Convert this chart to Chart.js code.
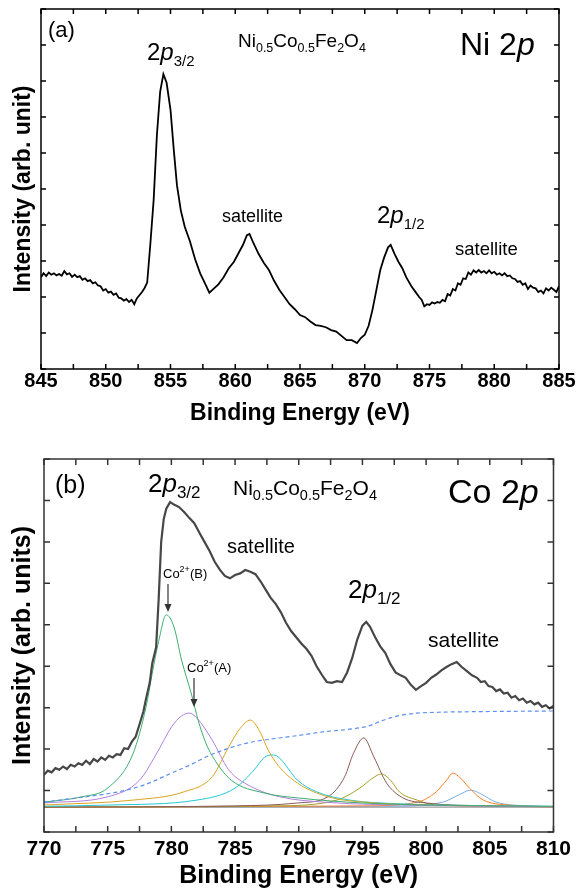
<!DOCTYPE html>
<html><head><meta charset="utf-8">
<script src="https://cdn.jsdelivr.net/npm/chart.js@4.4.1/dist/chart.umd.min.js"></script>
<style>
html,body{margin:0;padding:0;background:#fff;}
#wrap{position:relative;width:576px;height:896px;}
canvas{position:absolute;left:0;}
#c1{top:0;} #c2{top:430px;}
</style></head>
<body><div id="wrap"><canvas id="c1" width="576" height="430"></canvas><canvas id="c2" width="576" height="466"></canvas></div>
<script>
// ---- Panel (a): Ni 2p ----
const niEnergy = [845.0,845.2,845.4,845.6,845.8,846.0,846.2,846.4,846.6,846.8,847.0,847.2,847.4,847.6,847.8,848.0,848.2,848.4,848.6,848.8,849.0,849.2,849.4,849.6,849.8,850.0,850.2,850.4,850.6,850.8,851.0,851.2,851.4,851.6,851.8,852.0,852.2,852.4,852.6,852.8,853.0,853.2,
853.45,853.7,853.95,854.2,854.45,854.7,855.0,855.25,855.5,855.8,856.1,856.5,856.9,857.3,857.7,858.0,858.3,858.7,859.1,859.5,859.9,860.3,860.6,860.9,861.1,861.4,861.8,862.2,862.6,863.0,863.4,863.8,864.2,864.6,865.0,865.4,865.8,866.2,866.6,867.0,867.4,867.8,868.2,868.6,869.0,869.4,869.7,870.0,870.3,870.6,870.9,871.2,871.5,871.8,872.0,872.3,872.6,872.9,873.2,873.6,
874.0,874.2,874.4,874.6,874.8,875.0,875.2,875.4,875.6,875.8,876.0,876.2,876.4,876.6,876.8,877.0,877.2,877.4,877.6,877.8,878.0,878.2,878.4,878.6,878.8,879.0,879.2,879.4,879.6,879.8,880.0,880.2,880.4,880.6,880.8,881.0,881.2,881.4,881.6,881.8,882.0,882.2,882.4,882.6,882.8,883.0,883.2,883.4,883.6,883.8,884.0,884.2,884.4,884.6,884.8,885.0];
const niIntensity = [2.55,2.66,2.58,2.68,2.62,2.66,2.60,2.64,2.59,2.72,2.63,2.66,2.56,2.62,2.55,2.58,2.48,2.52,2.44,2.47,2.38,2.41,2.32,2.30,2.18,2.22,2.12,2.15,2.06,2.10,1.98,1.96,1.90,1.94,1.86,1.92,1.80,1.96,2.05,2.14,2.25,2.40,
3.5,4.7,6.5,7.7,8.19,7.95,7.2,6.1,5.1,4.4,3.95,3.55,3.05,2.65,2.35,2.12,2.22,2.35,2.55,2.80,2.98,3.25,3.45,3.72,3.75,3.50,3.20,2.95,2.75,2.45,2.20,2.00,1.80,1.66,1.50,1.44,1.32,1.22,1.20,1.16,1.08,1.04,0.92,0.80,0.80,0.72,0.86,0.95,1.20,1.65,2.20,2.75,3.10,3.38,3.45,3.20,2.98,2.80,2.55,2.30,
2.10,2.00,1.92,1.74,1.80,1.78,1.85,1.82,1.86,1.84,1.92,1.88,2.08,2.04,2.22,2.18,2.38,2.34,2.52,2.50,2.68,2.62,2.74,2.68,2.75,2.68,2.72,2.66,2.74,2.66,2.70,2.62,2.66,2.60,2.66,2.58,2.60,2.52,2.50,2.42,2.44,2.34,2.38,2.22,2.32,2.26,2.24,2.14,2.18,2.10,2.24,2.18,2.26,2.20,2.14,2.30];
const niTicks = [845,850,855,860,865,870,875,880,885];

// ---- Panel (b): Co 2p ----
const coEnergy = [770.0,770.3,770.6,770.9,771.2,771.5,771.8,772.1,772.4,772.7,773.0,773.3,773.6,773.9,774.2,774.5,774.8,775.1,775.4,775.7,776.0,776.3,776.6,776.9,777.2,
777.5,777.8,778.0,778.3,778.5,778.8,779.0,779.2,779.4,779.6,779.9,780.2,780.6,781.0,781.4,781.8,782.2,782.6,783.0,783.4,783.8,784.2,784.6,785.0,785.4,785.8,786.2,786.6,787.0,787.4,787.8,788.2,788.6,789.0,789.4,789.8,790.2,790.6,791.0,791.4,791.8,792.2,792.6,793.0,793.4,793.8,794.2,794.6,795.0,795.3,795.6,796.0,796.4,796.8,797.2,797.6,798.0,798.4,798.8,799.2,799.6,800.0,800.4,800.8,801.2,801.6,802.0,802.4,802.8,803.2,803.6,
804.0,804.3,804.6,804.9,805.2,805.5,805.8,806.1,806.4,806.7,807.0,807.3,807.6,807.9,808.2,808.5,808.8,809.1,809.4,809.7,810.0];
const coIntensity = [1.38,1.48,1.44,1.54,1.50,1.58,1.52,1.62,1.58,1.66,1.62,1.72,1.64,1.76,1.70,1.80,1.74,1.84,1.80,1.88,1.86,2.02,2.00,2.18,2.30,
2.60,2.90,3.20,3.60,4.07,4.45,5.6,7.0,7.55,7.80,7.96,7.90,7.84,7.72,7.58,7.45,7.22,7.00,6.78,6.52,6.33,6.18,6.12,6.20,6.24,6.32,6.28,6.22,6.05,5.85,5.65,5.50,5.30,5.05,4.85,4.70,4.55,4.42,4.25,4.00,3.80,3.62,3.60,3.64,3.62,3.85,4.20,4.65,4.98,5.07,4.95,4.70,4.48,4.32,4.05,3.85,3.78,3.72,3.55,3.43,3.52,3.60,3.72,3.80,3.90,3.98,4.05,4.10,3.98,3.88,3.78,
3.72,3.62,3.64,3.52,3.50,3.40,3.44,3.34,3.36,3.24,3.28,3.18,3.22,3.12,3.16,3.08,3.12,3.02,3.06,2.98,3.04];
const bgEnergy = [770,772,774,776,778,780,781.5,783,784.5,786,788,790,792,794,795.5,796.5,797.5,799,801,803,806,810];
const bgIntensity = [0.72,0.80,0.88,0.98,1.15,1.42,1.62,1.85,2.02,2.15,2.25,2.33,2.42,2.48,2.56,2.68,2.78,2.86,2.89,2.90,2.91,2.92];
const greenE = [770,773,775,777,778,778.5,779,779.6,780.2,780.8,781.6,782.1,782.7,783.4,784.7,787.3,790,795,800,810];
const greenI = [0.72,0.85,1.06,1.9,3.0,3.83,4.6,5.24,4.95,4.15,3.3,2.7,2.15,1.74,1.25,0.94,0.82,0.7,0.65,0.62];
const purpleE = [770,775,777.5,779,780,780.8,781.4,782,783.2,784.5,786.3,788.5,792,800,810];
const purpleI = [0.70,0.85,1.25,1.98,2.53,2.80,2.87,2.75,2.22,1.50,1.09,0.85,0.72,0.64,0.61];
const goldE = [770,777,781,783.2,784.5,785.4,786.2,786.9,787.6,788.4,789.9,792.3,796.1,800,810];
const goldI = [0.65,0.77,0.97,1.33,2.05,2.50,2.70,2.45,1.98,1.60,1.18,0.85,0.70,0.65,0.61];
const cyanE = [770,775,782,785,786.5,787.3,787.9,788.4,789.9,791.4,794,798,810];
const cyanI = [0.62,0.65,0.77,1.06,1.50,1.80,1.86,1.81,1.25,0.97,0.77,0.68,0.62];
const brownE = [770,785,789.9,792.3,793.6,794.3,795.1,795.9,796.9,798.2,800,805,810];
const brownI = [0.60,0.63,0.70,0.85,1.33,1.90,2.27,1.81,1.18,0.82,0.70,0.63,0.61];
const oliveE = [770,788,793,794.8,795.8,796.5,797.2,797.9,799.3,800.8,810];
const oliveI = [0.60,0.63,0.77,1.06,1.30,1.40,1.25,0.97,0.77,0.65,0.61];
const orangeE = [770,795,799.3,800.8,801.6,802.1,802.7,803.4,804.5,806.5,810];
const orangeI = [0.60,0.63,0.72,0.97,1.25,1.42,1.30,1.06,0.77,0.65,0.61];
const lblueE = [770,797,801.3,802.6,803.5,804.3,805.5,808.1,810];
const lblueI = [0.60,0.62,0.72,0.90,1.01,0.92,0.72,0.63,0.61];
const baseE = [770,810];
const baseI = [0.6,0.6];
const coTicks = [770,775,780,785,790,795,800,805,810];

const FONT = '"Liberation Sans", Arial, Helvetica, sans-serif';
Chart.defaults.font.family = FONT;
Chart.defaults.color = '#000';

function pts(E, I){ const n = Math.min(E.length, I.length); const out=[]; for(let i=0;i<n;i++) out.push({x:E[i], y:I[i]}); return out; }

function rich(ctx, x, y, parts){
  ctx.textBaseline = 'alphabetic'; ctx.textAlign = 'left';
  for (const p of parts){
    ctx.font = (p.it ? 'italic ' : '') + p.s + 'px ' + FONT;
    ctx.fillText(p.t, x, y + (p.dy||0));
    x += ctx.measureText(p.t).width;
  }
}
function arrow(ctx, x, y1, y2, color){
  ctx.save(); ctx.strokeStyle=color; ctx.fillStyle=color; ctx.lineWidth=1.2;
  ctx.beginPath(); ctx.moveTo(x,y1); ctx.lineTo(x,y2-6); ctx.stroke();
  ctx.beginPath(); ctx.moveTo(x-3.5,y2-8); ctx.lineTo(x+3.5,y2-8); ctx.lineTo(x,y2); ctx.closePath(); ctx.fill();
  ctx.restore();
}

const framePlugin = {
  id:'frame',
  afterDatasetsDraw(chart, args, o){
    const {ctx, chartArea:a, scales:{x,y}} = chart;
    ctx.save();
    ctx.strokeStyle = o.color; ctx.lineWidth = o.width;
    ctx.strokeRect(a.left, a.top, a.right-a.left, a.bottom-a.top);
    ctx.beginPath();
    x.ticks.forEach(t=>{ const p = x.getPixelForValue(t.value);
      ctx.moveTo(p,a.bottom); ctx.lineTo(p,a.bottom-o.len);
      ctx.moveTo(p,a.top); ctx.lineTo(p,a.top+o.len); });
    y.ticks.forEach(t=>{ const p = y.getPixelForValue(t.value);
      ctx.moveTo(a.left,p); ctx.lineTo(a.left+o.len,p);
      ctx.moveTo(a.right,p); ctx.lineTo(a.right-o.len,p); });
    ctx.stroke();
    ctx.restore();
    if (o.text) { ctx.save(); ctx.fillStyle='#000'; o.text(ctx); ctx.restore(); }
  }
};

function makeOpts(cfg){
  return {
    responsive:false, animation:false, devicePixelRatio:1,
    layout:{padding:cfg.pad},
    plugins:{legend:{display:false}, tooltip:{enabled:false}, frame:cfg.frame},
    scales:{
      x:{type:'linear', min:cfg.xmin, max:cfg.xmax,
        afterFit:s=>{s.height=cfg.xh;},
        grid:{display:false, drawTicks:false}, border:{display:false},
        ticks:{stepSize:2.5, autoSkip:false, maxRotation:0, padding:cfg.tpad, color:'#000',
          font:{size:cfg.tsize, weight:'bold'},
          callback:(v)=> cfg.ticks.includes(v) ? String(v) : ''},
        title:{display:true, text:'Binding Energy (eV)', color:'#000',
          font:{size:cfg.xtsize, weight:'bold'}, padding:{top:0,bottom:cfg.xtpad}}},
      y:{type:'linear', min:0, max:cfg.ymax,
        afterFit:s=>{s.width=cfg.yw;},
        grid:{display:false, drawTicks:false}, border:{display:false},
        ticks:{display:false, stepSize:1},
        title:{display:true, text:cfg.ytitle, color:'#000',
          font:{size:cfg.ytsize, weight:'bold'}, padding:{top:cfg.ytpad,bottom:0}}}
    }
  };
}

// Panel (a)
new Chart(document.getElementById('c1'), {
  type:'line',
  data:{datasets:[{data:pts(niEnergy,niIntensity), borderColor:'#000', borderWidth:1.8, pointRadius:0, tension:0}]},
  options:makeOpts({pad:{left:0,right:17,top:9,bottom:0}, xmin:845, xmax:885, xh:61, tpad:0, tsize:20,
    ticks:niTicks, xtsize:23, xtpad:3, ymax:10, yw:41, ytitle:'Intensity (arb. unit)', ytsize:23, ytpad:10,
    frame:{color:'#000', width:1.5, len:5, text:(ctx)=>{
      rich(ctx,48,37,[{t:'(a)',s:22}]);
      rich(ctx,147,60,[{t:'2',s:24},{t:'p',s:24,it:true},{t:'3/2',s:15,dy:6}]);
      rich(ctx,238,47,[{t:'Ni',s:19},{t:'0.5',s:12.5,dy:5},{t:'Co',s:19},{t:'0.5',s:12.5,dy:5},{t:'Fe',s:19},{t:'2',s:12.5,dy:5},{t:'O',s:19},{t:'4',s:12.5,dy:5}]);
      rich(ctx,460,55,[{t:'Ni 2',s:32},{t:'p',s:32,it:true}]);
      rich(ctx,222,222,[{t:'satellite',s:18}]);
      rich(ctx,377,223,[{t:'2',s:24},{t:'p',s:24,it:true},{t:'1/2',s:15,dy:6}]);
      rich(ctx,455,255,[{t:'satellite',s:18.5}]);
    }}})
  ,plugins:[framePlugin]
});

// Panel (b)
const comp = (E,I,c)=>({data:pts(E,I), borderColor:c, borderWidth:1, pointRadius:0, cubicInterpolationMode:'monotone', order:3});
new Chart(document.getElementById('c2'), {
  type:'line',
  data:{datasets:[
    {data:pts(coEnergy,coIntensity), borderColor:'#474747', borderWidth:2.2, pointRadius:0, tension:0, order:1},
    {data:pts(bgEnergy,bgIntensity), borderColor:'#5b8ff0', borderWidth:1.2, borderDash:[4,3], pointRadius:0, cubicInterpolationMode:'monotone', order:2},
    comp(greenE,greenI,'#3dae6e'),
    comp(purpleE,purpleI,'#b07fe0'),
    comp(goldE,goldI,'#d9a520'),
    comp(cyanE,cyanI,'#22c8d8'),
    comp(brownE,brownI,'#8b5a55'),
    comp(oliveE,oliveI,'#a5a02a'),
    comp(orangeE,orangeI,'#ff7f2a'),
    comp(lblueE,lblueI,'#7aaee0'),
    {data:pts(baseE,baseI), borderColor:'#888', borderWidth:1, pointRadius:0, order:4}
  ]},
  options:makeOpts({pad:{left:0,right:18,top:29,bottom:0}, xmin:770, xmax:810, xh:64, tpad:5, tsize:21,
    ticks:coTicks, xtsize:25, xtpad:5, ymax:9, yw:44, ytitle:'Intensity (arb. units)', ytsize:25, ytpad:8,
    frame:{color:'#333', width:1.5, len:6, text:(ctx)=>{
      rich(ctx,55,63,[{t:'(b)',s:25}]);
      rich(ctx,148,62,[{t:'2',s:26},{t:'p',s:26,it:true},{t:'3/2',s:17,dy:6}]);
      rich(ctx,233,65,[{t:'Ni',s:21},{t:'0.5',s:14.5,dy:5},{t:'Co',s:21},{t:'0.5',s:14.5,dy:5},{t:'Fe',s:21},{t:'2',s:14.5,dy:5},{t:'O',s:21},{t:'4',s:14.5,dy:5}]);
      rich(ctx,448,73,[{t:'Co 2',s:34},{t:'p',s:34,it:true}]);
      rich(ctx,227,123,[{t:'satellite',s:20}]);
      rich(ctx,348,168,[{t:'2',s:26},{t:'p',s:26,it:true},{t:'1/2',s:17,dy:6}]);
      rich(ctx,428,217,[{t:'satellite',s:21}]);
      rich(ctx,163,148,[{t:'Co',s:13},{t:'2+',s:9,dy:-6},{t:'(B)',s:13}]);
      arrow(ctx,168,154,182,'#333');
      rich(ctx,187,242,[{t:'Co',s:13},{t:'2+',s:9,dy:-6},{t:'(A)',s:13}]);
      arrow(ctx,194,248,277,'#333');
    }}})
  ,plugins:[framePlugin]
});
</script></body></html>
